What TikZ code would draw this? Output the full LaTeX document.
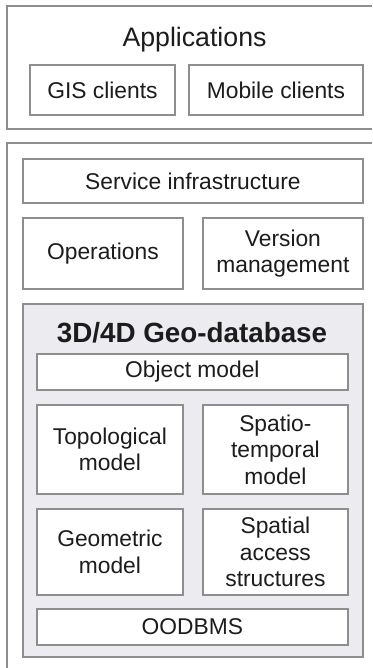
\documentclass[tikz,border=0pt]{standalone}
\usepackage{fontspec}
\setmainfont{Liberation Sans}
\usetikzlibrary{positioning}
\definecolor{frame}{HTML}{8E8E8E}
\definecolor{ink}{HTML}{1C1C1C}
\definecolor{dbfill}{HTML}{EBEBF0}

\begin{document}
\begin{tikzpicture}[x=1pt,y=-1pt,
    frameline/.style={draw=frame,line width=1.8pt},
    box/.style={frameline,fill=white,inner sep=0pt,anchor=north west,align=center,
      text=ink,font=\fontsize{22.8}{26.5}\selectfont}]
      \useasboundingbox (0,0) rectangle (372,668);
      \fill[white] (0,0) rectangle (372,668);
      % outer frames, open to the right
      \draw[frameline] (372,6) -| (7,129) -- (372,129);
      \draw[frameline] (372,143) -| (7,668);
      \node[text=ink,font=\fontsize{26.7}{30}\selectfont,anchor=base] (apps) at (194.5,47) {Applications};
      \node[box,minimum width=145,minimum height=50] (gis) at (29,64) {GIS clients};
      \node[box,minimum width=174,minimum height=50] (mobile) at (188,64) {Mobile clients};
      \node[box,minimum width=340,minimum height=44] (service) at (22,158) {Service infrastructure};
      \node[box,minimum width=160,minimum height=71] (ops) at (22,217) {Operations};
      \node[box,minimum width=160,minimum height=71] (version) at (202,217) {Version\\management};
      \node[box,fill=dbfill,minimum width=340,minimum height=353] (db) at (22,303) {};
      \node[text=ink,font=\fontsize{27.8}{30}\selectfont\bfseries,anchor=base] (dbtitle) at (192,342) {3D/4D Geo-database};
      \node[box,minimum width=311,minimum height=36] (object) at (36,353) {Object model};
      \node[box,minimum width=146,minimum height=89] (topo) at (36,404) {Topological\\model};
      \node[box,minimum width=145,minimum height=89] (spatio) at (202,404) {Spatio-\\temporal\\model};
      \node[box,minimum width=146,minimum height=86] (geom) at (36,508) {Geometric\\model};
      \node[box,minimum width=145,minimum height=86] (access) at (202,508) {Spatial\\access\\structures};
      \node[box,minimum width=311,minimum height=36] (oodbms) at (36,608) {OODBMS};
\end{tikzpicture}
\end{document}
